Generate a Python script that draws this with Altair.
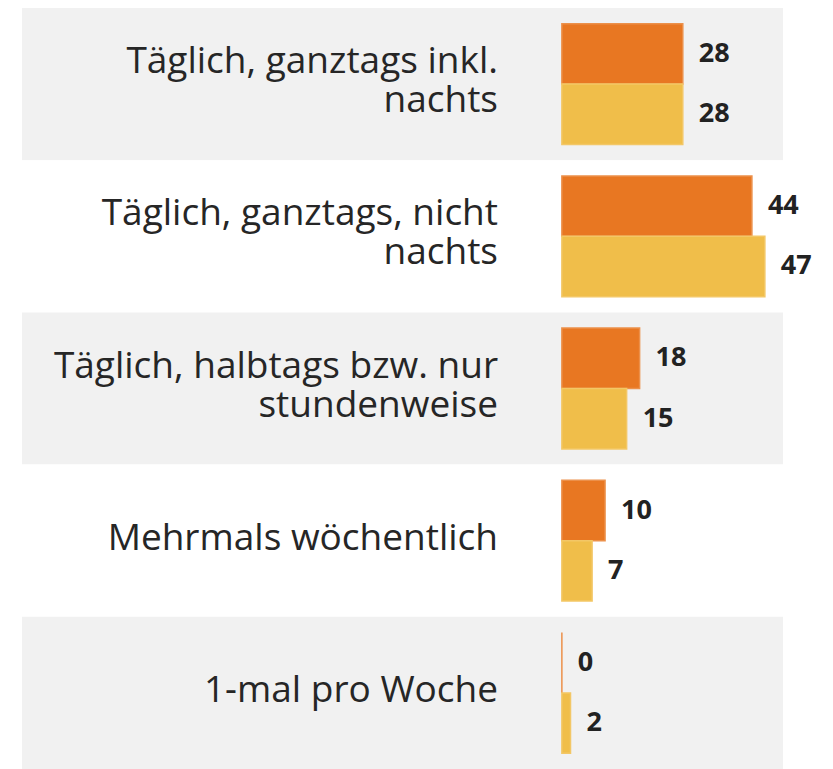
import altair as alt
import pandas as pd

# ---- data -------------------------------------------------------------
categories = [
    "Täglich, ganztags inkl. nachts",
    "Täglich, ganztags, nicht nachts",
    "Täglich, halbtags bzw. nur stundenweise",
    "Mehrmals wöchentlich",
    "1-mal pro Woche",
]
category_labels = [
    "Täglich, ganztags inkl.\nnachts",
    "Täglich, ganztags, nicht\nnachts",
    "Täglich, halbtags bzw. nur\nstundenweise",
    "Mehrmals wöchentlich",
    "1-mal pro Woche",
]
series = ["Reihe 1", "Reihe 2"]
values_series1 = [28, 44, 18, 10, 0]
values_series2 = [28, 47, 15, 7, 2]

# ---- tables -------------------------------------------------------------
bars = pd.DataFrame(
    [
        {"Kategorie": c, "Reihe": series[0], "Wert": v}
        for c, v in zip(categories, values_series1)
    ]
    + [
        {"Kategorie": c, "Reihe": series[1], "Wert": v}
        for c, v in zip(categories, values_series2)
    ]
)
bands = pd.DataFrame(
    {
        "Kategorie": categories,
        "Label": category_labels,
        "Zeilen": [lab.count("\n") + 1 for lab in category_labels],
        "Streifen": ["grau" if i % 2 == 0 else "weiss" for i in range(len(categories))],
    }
)

W, H = 761, 761
x_scale = alt.Scale(domain=[-125, 51.2], nice=False, zero=False)
y_enc = alt.Y(
    "Kategorie:N",
    sort=categories,
    scale=alt.Scale(domain=categories, paddingInner=0, paddingOuter=0),
    axis=None,
)
yoff = alt.YOffset(
    "Reihe:N", sort=series, scale=alt.Scale(domain=series, paddingInner=0, paddingOuter=0.26)
)

background = (
    alt.Chart(bands)
    .mark_rect()
    .encode(
        y=y_enc,
        x=alt.value(0),
        x2=alt.value(W),
        fill=alt.Fill(
            "Streifen:N",
            scale=alt.Scale(domain=["grau", "weiss"], range=["#f1f1f1", "#ffffff"]),
            legend=None,
        ),
    )
)

label_style = dict(
    align="right",
    baseline="middle",
    font="Open Sans",
    fontSize=37,
    lineHeight=39,
    lineBreak="\n",
    color="#262626",
)

labels_two = (
    alt.Chart(bands)
    .transform_filter("datum.Zeilen == 2")
    .mark_text(dy=-22, **label_style)
    .encode(y=y_enc, x=alt.value(476), text="Label:N")
)
labels_one = (
    alt.Chart(bands)
    .transform_filter("datum.Zeilen == 1")
    .mark_text(dy=-2, **label_style)
    .encode(y=y_enc, x=alt.value(476), text="Label:N")
)

bar_layer = (
    alt.Chart(bars)
    .mark_bar(strokeWidth=1.5, strokeOpacity=1)
    .encode(
        y=y_enc,
        yOffset=yoff,
        x=alt.X("Wert:Q", scale=x_scale, axis=None),
        color=alt.Color(
            "Reihe:N",
            scale=alt.Scale(domain=series, range=["#e87722", "#f0be4a"]),
            legend=None,
        ),
        stroke=alt.Stroke(
            "Reihe:N",
            scale=alt.Scale(domain=series, range=["#ec904a", "#f3c766"]),
            legend=None,
        ),
    )
)

value_labels = (
    alt.Chart(bars)
    .mark_text(
        align="left",
        baseline="middle",
        dx=16,
        font="Open Sans",
        fontSize=27,
        fontWeight="bold",
        color="#222222",
    )
    .encode(
        y=y_enc,
        yOffset=yoff,
        x=alt.X("Wert:Q", scale=x_scale, axis=None),
        text="Wert:Q",
    )
)

chart = (
    alt.layer(background, labels_two, labels_one, bar_layer, value_labels)
    .resolve_scale(color="independent", fill="independent")
    .properties(
        width=W,
        height=H,
        autosize=alt.AutoSizeParams(type="none"),
        padding={"left": 14, "top": 0, "right": 40, "bottom": 0},
        background="#ffffff",
    )
    .configure_view(stroke=None)
)

chart.save("out.html", embed_options={"renderer": "svg", "actions": False})
